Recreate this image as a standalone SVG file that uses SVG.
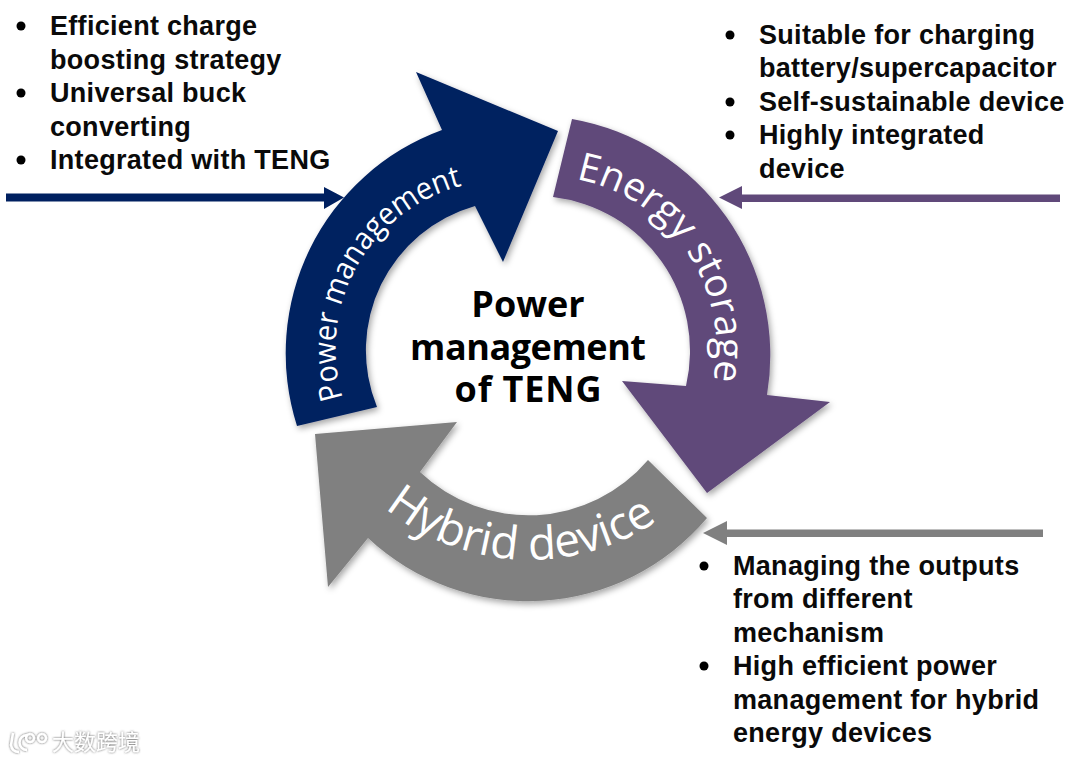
<svg xmlns="http://www.w3.org/2000/svg" width="1080" height="762" viewBox="0 0 1080 762">
<style>
.b{font:bold 27px "Liberation Sans",Arial,sans-serif;fill:#0a0a0a;letter-spacing:.3px}
.c{font:bold 36px "Open Sans","Noto Sans",sans-serif;fill:#000;text-anchor:middle}
.a{font-family:"Open Sans","Noto Sans",sans-serif;fill:#fff}
.blue{fill:#002060}.pur{fill:#60497a}.gr{fill:#808080}
.wm{font:22px "Noto Sans CJK SC",sans-serif;fill:#fff}
</style>
<defs>
<filter id="sh" x="-10%" y="-10%" width="125%" height="125%"><feDropShadow dx="2" dy="3" stdDeviation="3" flood-color="#000" flood-opacity=".35"/></filter>
<filter id="ws" x="-10%" y="-20%" width="120%" height="140%"><feDropShadow dx="0" dy="0" stdDeviation="1.300" flood-color="#555" flood-opacity="1"/></filter>
<path id="p1" d="M343 398A168 168 0 0 1 475 183"/>
<path id="p2" d="M576 179A172 172 0 0 1 712 386"/>
<path id="p3" d="M385 508A228 228 0 0 0 672 510"/>
</defs>
<rect width="1080" height="762" fill="#fff"/>
<g id="connectors">
<path class="blue" d="M6 193.500H324V187L344 197.500L324 209V201.500H6Z"/>
<path class="pur" d="M1060 194.500H742V186L719 197.500L742 209V202H1060Z"/>
<path class="gr" d="M1043 529.500H727V521L703 533L727 545V537H1043Z"/>
</g>
<g id="node-power-management">
<path class="blue" filter="url(#sh)" d="M558 131L416 72L442 130A238 238 0 0 0 297 426L377 407A150 150 0 0 1 475 206L503 262Z"/>
<text class="a" font-size="31" textLength="272" lengthAdjust="spacingAndGlyphs"><textPath href="#p1">Power management</textPath></text>
</g>
<g id="node-energy-storage">
<path class="pur" filter="url(#sh)" d="M572 119A240 240 0 0 1 767 395L830 402L707 493L622 381L686 386A155 155 0 0 0 553 197Z"/>
<text class="a" font-size="39"><textPath href="#p2">Energy storage</textPath></text>
</g>
<g id="node-hybrid-device">
<path class="gr" filter="url(#sh)" d="M707 518L648 460A157 157 0 0 1 420 472L457 422L315 434L328 587L368 538A234 234 0 0 0 707 518Z"/>
<text class="a" font-size="46"><textPath href="#p3">Hybrid device</textPath></text>
</g>
<g id="node-center">
<text class="c" x="528" y="317">Power</text>
<text class="c" x="528" y="360" textLength="236">management</text>
<text class="c" x="528" y="402" textLength="147">of TENG</text>
</g>
<g id="list-power">
<circle cx="21" cy="26" r="4.500"/><circle cx="21" cy="93" r="4.500"/><circle cx="21" cy="160" r="4.500"/>
<text class="b" x="50" y="35">Efficient charge</text>
<text class="b" x="50" y="69">boosting strategy</text>
<text class="b" x="50" y="102">Universal buck</text>
<text class="b" x="50" y="136">converting</text>
<text class="b" x="50" y="169">Integrated with TENG</text>
</g>
<g id="list-storage">
<circle cx="730" cy="35" r="4.500"/><circle cx="730" cy="102" r="4.500"/><circle cx="730" cy="135" r="4.500"/>
<text class="b" x="759" y="44">Suitable for charging</text>
<text class="b" x="759" y="77">battery/supercapacitor</text>
<text class="b" x="759" y="111">Self-sustainable device</text>
<text class="b" x="759" y="144">Highly integrated</text>
<text class="b" x="759" y="178">device</text>
</g>
<g id="list-hybrid">
<circle cx="704" cy="566" r="4.500"/><circle cx="704" cy="666" r="4.500"/>
<text class="b" x="733" y="575">Managing the outputs</text>
<text class="b" x="733" y="608">from different</text>
<text class="b" x="733" y="642">mechanism</text>
<text class="b" x="733" y="675">High efficient power</text>
<text class="b" x="733" y="709">management for hybrid</text>
<text class="b" x="733" y="742">energy devices</text>
</g>
<g id="watermark" filter="url(#ws)">
<path fill="none" stroke="#fff" stroke-width="2.500" d="M13 733L11 745Q12 752 19 752M27 735A7 7 0 1 0 27 750M30 734A4 4 0 1 0 30.100 734M42 734A4 4 0 1 0 42.100 734"/>
<text class="wm" x="52" y="750" textLength="88">大数跨境</text>
</g>
</svg>
